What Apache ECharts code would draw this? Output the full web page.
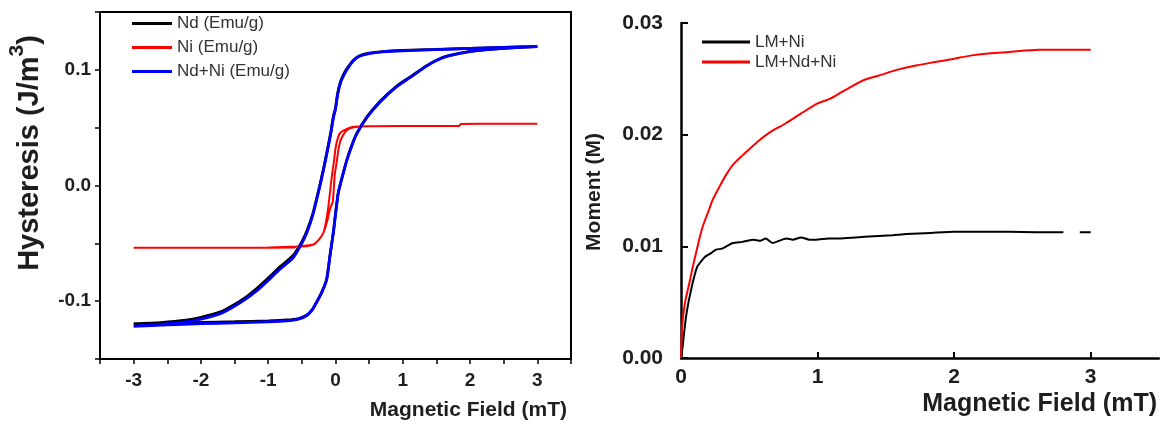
<!DOCTYPE html>
<html>
<head>
<meta charset="utf-8">
<script src="https://cdn.jsdelivr.net/npm/echarts@6/dist/echarts.min.js"></script>
<style>
  html, body { margin: 0; padding: 0; background: #fff; }
  #chart { width: 1160px; height: 434px; }
</style>
</head>
<body>
<div id="chart"></div>
<script>
// ---- Hysteresis loops (left panel): field in mT, magnetisation ----
// Nd+Ni, descending branch (+3 -> -3)
const ndNiDownField = [3.0, 2.5, 2.0, 1.5, 1.0, 0.7, 0.5, 0.35, 0.27, 0.18, 0.12, 0.07, 0.03, 0.0, -0.03, -0.07, -0.12, -0.18, -0.25, -0.33, -0.42, -0.50, -0.63, -0.83, -0.98, -1.15, -1.33, -1.52, -1.72, -2.0, -2.22, -2.6, -3.0];
const ndNiDownValue = [0.1200, 0.1195, 0.1185, 0.1175, 0.1165, 0.1155, 0.1140, 0.1115, 0.1080, 0.1010, 0.0950, 0.0880, 0.0780, 0.0660, 0.0590, 0.0450, 0.0300, 0.0130, -0.0050, -0.0240, -0.0400, -0.0500, -0.0625, -0.0725, -0.0810, -0.0900, -0.0980, -0.1050, -0.1110, -0.1155, -0.1180, -0.1200, -0.1217];
// Nd+Ni, ascending branch (-3 -> +3)
const ndNiUpField = [-3.0, -2.5, -2.0, -1.5, -1.0, -0.73, -0.55, -0.43, -0.35, -0.28, -0.20, -0.13, -0.08, -0.03, 0.0, 0.04, 0.09, 0.17, 0.24, 0.32, 0.47, 0.66, 0.91, 1.1, 1.35, 1.5, 1.68, 2.02, 2.5, 3.0];
const ndNiUpValue = [-0.1217, -0.1205, -0.1195, -0.1187, -0.1178, -0.1170, -0.1155, -0.1126, -0.1080, -0.1010, -0.0920, -0.0810, -0.0600, -0.0400, -0.0250, -0.0070, 0.0050, 0.0220, 0.0340, 0.0450, 0.0590, 0.0720, 0.0855, 0.0930, 0.1030, 0.1080, 0.1120, 0.1160, 0.1185, 0.1200];

// Nd, descending and ascending branches
const ndDownField = [3.0, 2.5, 2.0, 1.5, 1.0, 0.7, 0.5, 0.35, 0.27, 0.18, 0.12, 0.07, 0.03, 0.0, -0.03, -0.07, -0.12, -0.18, -0.25, -0.33, -0.42, -0.50, -0.63, -0.83, -0.98, -1.15, -1.33, -1.52, -1.72, -2.0, -2.22, -2.6, -3.0];
const ndDownValue = [0.1200, 0.1195, 0.1186, 0.1177, 0.1168, 0.1158, 0.1145, 0.1120, 0.1085, 0.1020, 0.0960, 0.0890, 0.0790, 0.0670, 0.0600, 0.0460, 0.0310, 0.0140, -0.0040, -0.0230, -0.0385, -0.0485, -0.0605, -0.0705, -0.0790, -0.0880, -0.0965, -0.1035, -0.1095, -0.1140, -0.1165, -0.1185, -0.1195];
const ndUpField = [-3.0, -2.5, -2.0, -1.5, -1.0, -0.73, -0.55, -0.43, -0.35, -0.28, -0.20, -0.13, -0.08, -0.03, 0.0, 0.04, 0.09, 0.17, 0.24, 0.32, 0.47, 0.66, 0.91, 1.1, 1.35, 1.5, 1.68, 2.02, 2.5, 3.0];
const ndUpValue = [-0.1195, -0.1190, -0.1183, -0.1178, -0.1170, -0.1163, -0.1150, -0.1122, -0.1076, -0.1006, -0.0916, -0.0806, -0.0596, -0.0396, -0.0246, -0.0066, 0.0054, 0.0224, 0.0344, 0.0455, 0.0596, 0.0727, 0.0860, 0.0935, 0.1034, 0.1083, 0.1122, 0.1162, 0.1186, 0.1200];

// Ni, descending and ascending branches
const niDownField = [3.0, 2.4, 1.86, 1.84, 1.2, 0.6, 0.41, 0.25, 0.17, 0.08, 0.04, 0.0, -0.02, -0.05, -0.08, -0.11, -0.14, -0.18, -0.25, -0.33, -0.45, -0.58, -0.62, -1.0, -2.0, -3.0];
const niDownValue = [0.0534, 0.0533, 0.0532, 0.0515, 0.0514, 0.0513, 0.0512, 0.0505, 0.0490, 0.0460, 0.0420, 0.0320, 0.0220, 0.0100, -0.0050, -0.0200, -0.0310, -0.0410, -0.0470, -0.0510, -0.0525, -0.0528, -0.0537, -0.0538, -0.0538, -0.0539];
const niUpField = [-3.0, -2.0, -1.0, -0.58, -0.33, -0.25, -0.18, -0.12, -0.08, -0.04, -0.01, 0.02, 0.04, 0.07, 0.09, 0.14, 0.2, 0.3, 0.45, 1.0, 1.84, 1.86, 2.4, 3.0];
const niUpValue = [-0.0539, -0.0538, -0.0536, -0.0528, -0.0510, -0.0470, -0.0410, -0.0300, -0.0200, -0.0140, 0.0100, 0.0210, 0.0300, 0.0380, 0.0410, 0.0460, 0.0490, 0.0505, 0.0512, 0.0514, 0.0515, 0.0532, 0.0533, 0.0534];

// ---- Magnetisation curves (right panel) ----
const lmNiField = [0, 0.005, 0.012, 0.025, 0.037, 0.055, 0.074, 0.095, 0.12, 0.15, 0.18, 0.22, 0.257, 0.3, 0.38, 0.45, 0.53, 0.58, 0.62, 0.67, 0.72, 0.77, 0.82, 0.88, 0.94, 0.99, 1.08, 1.16, 1.28, 1.41, 1.55, 1.65, 1.83, 2.0, 2.2, 2.4, 2.6, 2.8, 2.86, 2.92, 3.0];
const lmNiMoment = [0, 0.0004, 0.0010, 0.0025, 0.0037, 0.0050, 0.0061, 0.0072, 0.0082, 0.0087, 0.0091, 0.0094, 0.0097, 0.0098, 0.0103, 0.0104, 0.0106, 0.0105, 0.0107, 0.0103, 0.0105, 0.0107, 0.0106, 0.0108, 0.0106, 0.0106, 0.0107, 0.0107, 0.0108, 0.0109, 0.0110, 0.0111, 0.0112, 0.0113, 0.0113, 0.0113, 0.01127, 0.01126, '-', 0.01126, 0.01126];
const lmNdNiField = [0, 0.008, 0.025, 0.04, 0.061, 0.085, 0.11, 0.135, 0.16, 0.2, 0.233, 0.28, 0.33, 0.38, 0.437, 0.5, 0.574, 0.65, 0.765, 0.88, 1.0, 1.09, 1.175, 1.26, 1.34, 1.45, 1.58, 1.72, 1.86, 2.0, 2.13, 2.27, 2.4, 2.62, 2.8, 3.0];
const lmNdNiMoment = [0, 0.0028, 0.0046, 0.0056, 0.0067, 0.0081, 0.0094, 0.0107, 0.0118, 0.0131, 0.0142, 0.0153, 0.0164, 0.0173, 0.0180, 0.0187, 0.0195, 0.0202, 0.0210, 0.0219, 0.0228, 0.0232, 0.0238, 0.0244, 0.0249, 0.0253, 0.0258, 0.0262, 0.0265, 0.0268, 0.0271, 0.0273, 0.0274, 0.0276, 0.0276, 0.0276];

// Series names (legend entries)
const leftNames = ['Nd (Emu/g)', 'Ni (Emu/g)', 'Nd+Ni (Emu/g)'];
const rightNames = ['LM+Ni', 'LM+Nd+Ni'];

const pairs = (xs, ys) => xs.map((x, i) => [x, ys[i]]);

const FONT = '"Liberation Sans", Arial, Helvetica, sans-serif';
const LABEL_COLOR = '#1e1e1e';

const chart = echarts.init(document.getElementById('chart'), null, { renderer: 'canvas' });

const lineSeries = (name, data, color, width, axis) => ({
  name, type: 'line', data,
  xAxisIndex: axis, yAxisIndex: axis,
  showSymbol: false, symbol: 'none', silent: true,
  connectNulls: false, smooth: 0.2,
  lineStyle: { color, width },
  itemStyle: { color },
  emphasis: { disabled: true }
});

const isInt = v => Math.abs(v - Math.round(v)) < 1e-9;

chart.setOption({
  animation: false,
  backgroundColor: '#ffffff',
  textStyle: { fontFamily: FONT },
  grid: [
    { left: 100, right: 589, top: 12, bottom: 75, show: true, borderColor: '#000', borderWidth: 2, backgroundColor: 'transparent', outerBoundsMode: 'none' },
    { left: 681, right: 1, top: 23, bottom: 76, outerBoundsMode: 'none' }
  ],
  xAxis: [
    {
      type: 'value', gridIndex: 0, min: -3.5, max: 3.5, interval: 0.5,
      splitLine: { show: false },
      axisLine: { onZero: false, lineStyle: { color: '#000', width: 2 } },
      axisTick: { length: 5, lineStyle: { color: '#000', width: 1.5 } },
      axisLabel: {
        formatter: v => isInt(v) ? String(Math.round(v)) : '',
        fontSize: 19, fontWeight: 'bold', color: LABEL_COLOR, margin: 12, fontFamily: FONT
      }
    },
    {
      type: 'value', gridIndex: 1, min: 0, max: 3.5, interval: 1,
      splitLine: { show: false },
      axisLine: { onZero: false, lineStyle: { color: '#000', width: 2.5 } },
      axisTick: { inside: true, length: 6, lineStyle: { color: '#000', width: 2 }, customValues: [1, 2, 3] },
      axisLabel: {
        formatter: v => isInt(v) ? String(Math.round(v)) : '',
        customValues: [0, 1, 2, 3],
        fontSize: 21, fontWeight: 'bold', color: LABEL_COLOR, margin: 9, fontFamily: FONT
      }
    }
  ],
  yAxis: [
    {
      type: 'value', gridIndex: 0, min: -0.15, max: 0.15, interval: 0.05,
      splitLine: { show: false },
      axisLine: { onZero: false, lineStyle: { color: '#000', width: 2 } },
      axisTick: { length: 5, lineStyle: { color: '#000', width: 1.5 } },
      axisLabel: {
        formatter: v => Math.abs(v * 10 - Math.round(v * 10)) < 1e-6 ? (Math.round(v * 10) / 10).toFixed(1) : '',
        fontSize: 19, fontWeight: 'bold', color: LABEL_COLOR, margin: 9, fontFamily: FONT
      }
    },
    {
      type: 'value', gridIndex: 1, min: 0, max: 0.03, interval: 0.01,
      splitLine: { show: false },
      axisLine: { onZero: false, lineStyle: { color: '#000', width: 2.5 } },
      axisTick: { inside: true, length: 7, lineStyle: { color: '#000', width: 2 } },
      axisLabel: {
        formatter: v => v.toFixed(2),
        fontSize: 21, fontWeight: 'bold', color: LABEL_COLOR, margin: 18, fontFamily: FONT
      }
    }
  ],
  legend: [
    {
      data: leftNames, orient: 'vertical', left: 132, top: 15, padding: 0,
      icon: 'rect', itemWidth: 40, itemHeight: 3, itemGap: 7,
      textStyle: { fontSize: 17, lineHeight: 17, color: '#333', fontFamily: FONT },
      selectedMode: false
    },
    {
      data: rightNames, orient: 'vertical', left: 702, top: 33, padding: 0,
      icon: 'rect', itemWidth: 48, itemHeight: 3, itemGap: 2,
      textStyle: { fontSize: 17, lineHeight: 18, color: '#333', fontFamily: FONT },
      selectedMode: false
    }
  ],
  graphic: [
    {
      type: 'text', x: 30, y: 153, rotation: Math.PI / 2, silent: true,
      style: {
        text: '{a|Hysteresis (J/m}{s|3}{a|)}',
        align: 'center', verticalAlign: 'middle',
        textAlign: 'center', textVerticalAlign: 'middle',
        fill: LABEL_COLOR,
        rich: {
          a: { fontSize: 29, fontWeight: 'bold', fontFamily: FONT, lineHeight: 46, fill: LABEL_COLOR },
          s: { fontSize: 21, fontWeight: 'bold', fontFamily: FONT, lineHeight: 21, verticalAlign: 'top', fill: LABEL_COLOR }
        }
      }
    },
    {
      type: 'text', x: 567, y: 410, silent: true,
      style: {
        text: 'Magnetic Field (mT)',
        align: 'right', verticalAlign: 'middle',
        textAlign: 'right', textVerticalAlign: 'middle',
        fontSize: 21, fontWeight: 'bold', fontFamily: FONT, fill: LABEL_COLOR
      }
    },
    {
      type: 'text', x: 594, y: 192, rotation: Math.PI / 2, silent: true,
      style: {
        text: 'Moment (M)',
        align: 'center', verticalAlign: 'middle',
        textAlign: 'center', textVerticalAlign: 'middle',
        fontSize: 21, fontWeight: 'bold', fontFamily: FONT, fill: LABEL_COLOR
      }
    },
    {
      type: 'text', x: 1157, y: 404, silent: true,
      style: {
        text: 'Magnetic Field (mT)',
        align: 'right', verticalAlign: 'middle',
        textAlign: 'right', textVerticalAlign: 'middle',
        fontSize: 25, fontWeight: 'bold', fontFamily: FONT, fill: LABEL_COLOR
      }
    }
  ],
  series: [
    lineSeries(leftNames[0], pairs(ndDownField, ndDownValue).concat(pairs(ndUpField, ndUpValue)), '#000000', 2.8, 0),
    lineSeries(leftNames[1], pairs(niDownField, niDownValue).concat(pairs(niUpField, niUpValue)), '#ff0000', 2, 0),
    lineSeries(leftNames[2], pairs(ndNiDownField, ndNiDownValue).concat(pairs(ndNiUpField, ndNiUpValue)), '#0000ff', 2.8, 0),
    lineSeries(rightNames[0], pairs(lmNiField, lmNiMoment), '#000000', 2, 1),
    lineSeries(rightNames[1], pairs(lmNdNiField, lmNdNiMoment), '#ff0000', 2, 1)
  ]
});
</script>
</body>
</html>
